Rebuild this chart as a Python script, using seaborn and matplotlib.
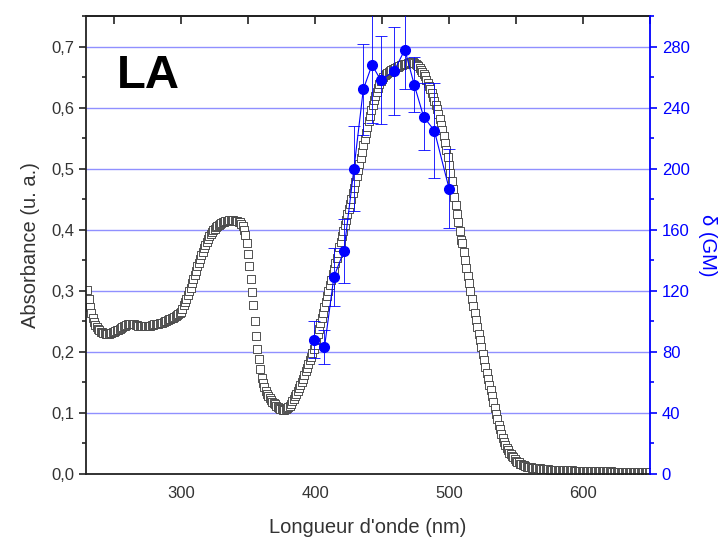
import matplotlib
matplotlib.use("Agg")
import matplotlib.pyplot as plt
from matplotlib.ticker import MultipleLocator, FuncFormatter
import seaborn as sns
import numpy as np

# absorbance spectrum, 1 nm step from 230 to 650 nm
wavelength = np.arange(230, 651)
absorbance = [
    0.302, 0.286, 0.273, 0.263, 0.255, 0.249, 0.244, 0.240, 0.237, 0.235,  # 230
    0.233, 0.232, 0.231, 0.231, 0.230, 0.230, 0.230, 0.231, 0.231, 0.232,  # 240
    0.233, 0.234, 0.235, 0.236, 0.238, 0.239, 0.240, 0.242, 0.243, 0.244,  # 250
    0.245, 0.245, 0.246, 0.246, 0.245, 0.245, 0.244, 0.244, 0.243, 0.243,  # 260
    0.243, 0.243, 0.242, 0.242, 0.242, 0.243, 0.243, 0.243, 0.244, 0.244,  # 270
    0.245, 0.245, 0.246, 0.246, 0.247, 0.247, 0.248, 0.249, 0.250, 0.251,  # 280
    0.252, 0.253, 0.254, 0.255, 0.256, 0.257, 0.258, 0.260, 0.262, 0.264,  # 290
    0.266, 0.270, 0.276, 0.282, 0.287, 0.293, 0.299, 0.305, 0.312, 0.319,  # 300
    0.326, 0.333, 0.340, 0.346, 0.352, 0.358, 0.364, 0.370, 0.375, 0.380,  # 310
    0.385, 0.389, 0.393, 0.396, 0.399, 0.402, 0.404, 0.406, 0.408, 0.410,  # 320
    0.411, 0.412, 0.413, 0.414, 0.415, 0.415, 0.416, 0.416, 0.416, 0.416,  # 330
    0.415, 0.415, 0.414, 0.413, 0.412, 0.410, 0.406, 0.400, 0.391, 0.378,  # 340
    0.360, 0.341, 0.320, 0.298, 0.276, 0.250, 0.226, 0.205, 0.188, 0.172,  # 350
    0.158, 0.149, 0.142, 0.136, 0.131, 0.127, 0.124, 0.121, 0.118, 0.116,  # 360
    0.114, 0.112, 0.110, 0.108, 0.107, 0.106, 0.105, 0.105, 0.106, 0.108,  # 370
    0.110, 0.112, 0.115, 0.119, 0.123, 0.127, 0.131, 0.136, 0.141, 0.146,  # 380
    0.151, 0.156, 0.162, 0.168, 0.174, 0.180, 0.186, 0.192, 0.198, 0.205,  # 390
    0.211, 0.220, 0.229, 0.238, 0.247, 0.256, 0.264, 0.273, 0.282, 0.291,  # 400
    0.300, 0.309, 0.318, 0.327, 0.336, 0.345, 0.353, 0.362, 0.371, 0.380,  # 410
    0.389, 0.398, 0.407, 0.416, 0.425, 0.434, 0.442, 0.451, 0.460, 0.469,  # 420
    0.478, 0.488, 0.498, 0.508, 0.518, 0.528, 0.538, 0.548, 0.558, 0.568,  # 430
    0.578, 0.587, 0.596, 0.604, 0.612, 0.619, 0.626, 0.632, 0.638, 0.643,  # 440
    0.647, 0.650, 0.653, 0.655, 0.657, 0.659, 0.660, 0.662, 0.663, 0.664,  # 450
    0.665, 0.666, 0.667, 0.668, 0.669, 0.670, 0.671, 0.672, 0.672, 0.673,  # 460
    0.673, 0.674, 0.674, 0.674, 0.673, 0.672, 0.670, 0.668, 0.665, 0.662,  # 470
    0.659, 0.655, 0.651, 0.646, 0.641, 0.636, 0.630, 0.624, 0.618, 0.611,  # 480
    0.604, 0.597, 0.589, 0.581, 0.572, 0.563, 0.553, 0.542, 0.531, 0.519,  # 490
    0.506, 0.493, 0.480, 0.467, 0.453, 0.440, 0.426, 0.412, 0.398, 0.384,  # 500
    0.378, 0.364, 0.351, 0.338, 0.325, 0.312, 0.299, 0.287, 0.275, 0.263,  # 510
    0.252, 0.241, 0.230, 0.219, 0.208, 0.197, 0.187, 0.176, 0.166, 0.156,  # 520
    0.146, 0.137, 0.127, 0.118, 0.108, 0.099, 0.090, 0.081, 0.073, 0.066,  # 530
    0.059, 0.053, 0.048, 0.043, 0.039, 0.035, 0.032, 0.029, 0.027, 0.024,  # 540
    0.022, 0.020, 0.019, 0.017, 0.016, 0.015, 0.014, 0.013, 0.012, 0.012,  # 550
    0.011, 0.011, 0.010, 0.010, 0.010, 0.009, 0.009, 0.009, 0.009, 0.008,  # 560
    0.008, 0.008, 0.008, 0.008, 0.008, 0.007, 0.007, 0.007, 0.007, 0.007,  # 570
    0.007, 0.007, 0.007, 0.006, 0.006, 0.006, 0.006, 0.006, 0.006, 0.006,  # 580
    0.006, 0.006, 0.006, 0.005, 0.005, 0.005, 0.005, 0.005, 0.005, 0.005,  # 590
    0.005, 0.005, 0.005, 0.005, 0.005, 0.005, 0.005, 0.005, 0.005, 0.005,  # 600
    0.005, 0.005, 0.005, 0.005, 0.005, 0.005, 0.005, 0.005, 0.005, 0.005,  # 610
    0.005, 0.005, 0.004, 0.004, 0.004, 0.004, 0.004, 0.004, 0.004, 0.004,  # 620
    0.004, 0.004, 0.004, 0.004, 0.004, 0.004, 0.004, 0.004, 0.004, 0.004,  # 630
    0.004, 0.004, 0.004, 0.004, 0.004, 0.004, 0.004, 0.004, 0.004, 0.004,  # 640
    0.004,                                                                 # 650
]

# two-photon cross section (GM)
tpa_wavelength = [399, 407, 414, 421.5, 429, 436, 442.5, 449, 459, 467, 474, 481, 489, 500]
tpa_delta = [88, 83, 129, 146, 200, 252, 268, 258, 264, 278, 255, 234, 225, 187]
tpa_error = [12, 11, 19, 21, 28, 30, 38, 29, 29, 26, 18, 22, 31, 26]

BLUE = "#0000ff"
GRID = "#9090ff"
INK = "#222222"

sns.set_style("white")
plt.rcParams["font.family"] = ["Liberation Sans", "DejaVu Sans"]

fig = plt.figure(figsize=(7.24, 5.47), dpi=100)
ax = fig.add_axes([0.1188, 0.1335, 0.7790, 0.8372])

for v in np.arange(0.1, 0.75, 0.1):
    ax.axhline(v, color=GRID, lw=1.0, zorder=0)

sns.scatterplot(
    x=wavelength, y=absorbance, ax=ax, marker="s", s=40,
    facecolor="white", edgecolor="#444444", linewidth=0.65, zorder=2,
)
ax.set_xlim(229, 650)
ax.set_ylim(0, 0.75)
ax.xaxis.set_major_locator(MultipleLocator(100))
ax.xaxis.set_minor_locator(MultipleLocator(50))
ax.yaxis.set_major_locator(MultipleLocator(0.1))
ax.yaxis.set_minor_locator(MultipleLocator(0.05))
ax.yaxis.set_major_formatter(FuncFormatter(lambda v, p: f"{v:.1f}".replace(".", ",")))
ax.tick_params(axis="both", which="major", direction="out", length=5, width=1.2,
               labelsize=12, color=INK, labelcolor="#333333")
ax.tick_params(axis="both", which="minor", direction="out", length=3, width=1.2,
               color=INK)
ax.tick_params(axis="x", which="major", pad=4)
for s in ["left", "bottom", "top"]:
    ax.spines[s].set_linewidth(1.3)
    ax.spines[s].set_color(INK)
ax.spines["right"].set_visible(False)
ax.set_xlabel("Longueur d'onde (nm)", fontsize=14.5, color="#333333", labelpad=12)
ax.set_ylabel("Absorbance (u. a.)", fontsize=14.5, color="#333333", labelpad=8)

# top axis: ticks pointing inward, no labels
top = ax.secondary_xaxis("top")
top.xaxis.set_major_locator(MultipleLocator(100))
top.xaxis.set_minor_locator(MultipleLocator(50))
top.tick_params(axis="x", which="both", direction="in", length=6, width=1.2,
                color=INK, labeltop=False)
top.spines["top"].set_linewidth(1.3)
top.spines["top"].set_color(INK)

ax.text(0.054, 0.842, "LA", transform=ax.transAxes, fontsize=34,
        fontweight="bold", color="black", va="baseline")

ax2 = ax.twinx()
ax2.errorbar(
    tpa_wavelength, tpa_delta, yerr=tpa_error, fmt="o-", color=BLUE,
    ms=7, lw=0.8, elinewidth=0.6, capsize=4, capthick=0.6, zorder=3,
)
ax2.set_ylim(0, 300)
ax2.yaxis.set_major_locator(MultipleLocator(40))
ax2.yaxis.set_minor_locator(MultipleLocator(20))
ax2.tick_params(axis="y", which="major", direction="out", length=5, width=1.2,
                colors=BLUE, labelsize=12)
ax2.tick_params(axis="y", which="minor", direction="out", length=3, width=1.2,
                colors=BLUE)
ax2.spines["right"].set_color(BLUE)
ax2.spines["right"].set_linewidth(1.3)
for s in ["left", "bottom", "top"]:
    ax2.spines[s].set_visible(False)
ax2.set_ylabel("δ (GM)", fontsize=14.5, color=BLUE, rotation=270, labelpad=20)

fig.savefig("out.png", dpi=100)
